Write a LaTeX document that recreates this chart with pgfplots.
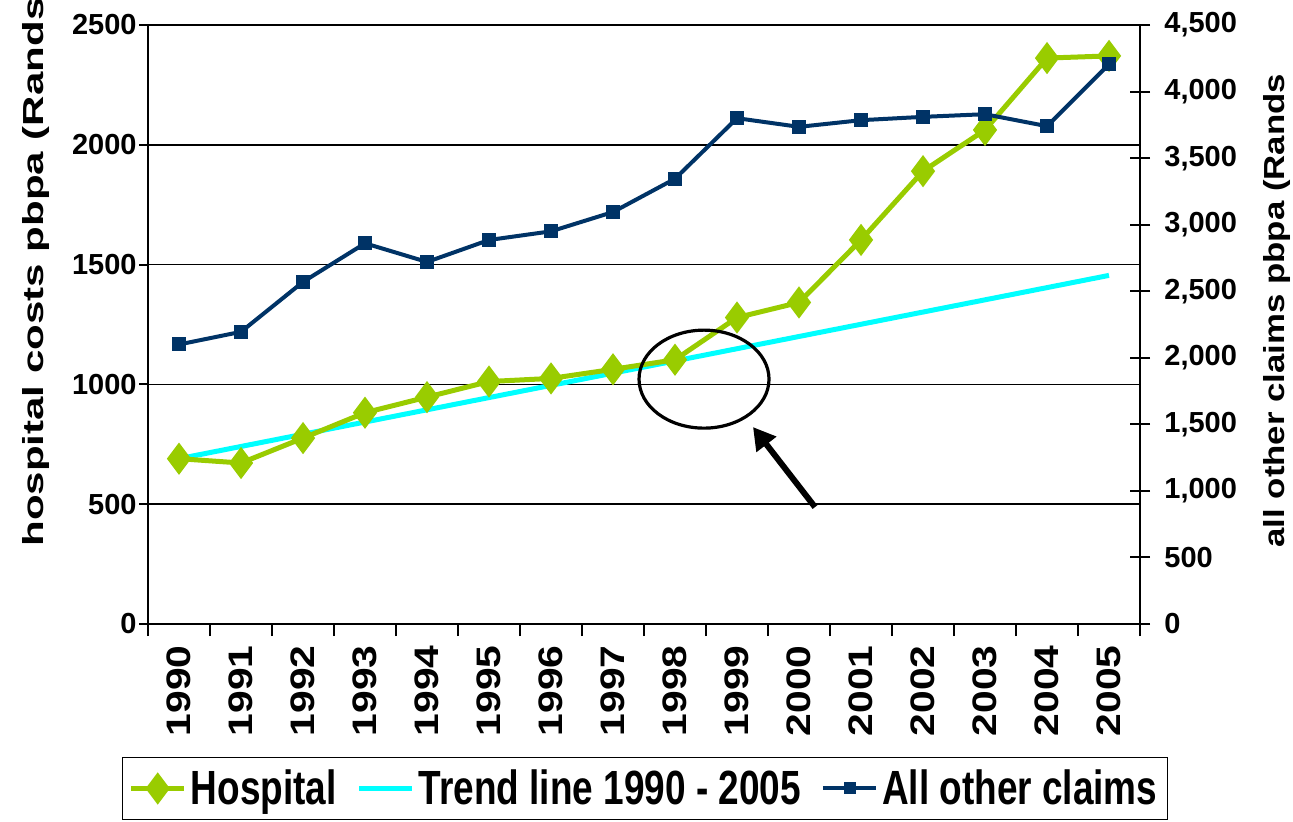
\documentclass[border=0pt]{standalone}
\usepackage{fontspec}
\setmainfont{Liberation Sans}
\newfontfamily\bfont{Liberation Sans Bold}
\newfontfamily\legfont{Liberation Sans Bold}[FakeStretch=0.77]
\newfontfamily\labfontL{Liberation Sans Bold}[FakeStretch=1.45]
\newfontfamily\labfontR{Liberation Sans Bold}[FakeStretch=1.2]
\newfontfamily\xfont{Liberation Sans Bold}[FakeStretch=1.2]
\usepackage{pgfplots}
\pgfplotsset{compat=1.18}
\usetikzlibrary{arrows.meta}
\definecolor{hosp}{HTML}{99CC00}
\definecolor{trendc}{HTML}{00FFFF}
\definecolor{navy}{HTML}{003366}

\pgfplotstableread{
x hosp trend other
0  690  690 2100
1  672  741 2195
2  776  792 2570
3  882  843 2860
4  947  894 2720
5  1012 945 2885
6  1025 996 2950
7  1063 1047 3095
8  1103 1098 3345
9  1279 1149 3800
10 1342 1200 3735
11 1603 1251 3785
12 1890 1302 3810
13 2062 1353 3830
14 2362 1404 3740
15 2371 1455 4205
}\data

\begin{document}
\begin{tikzpicture}
\begin{axis}[
  at={(0,0)}, anchor=south west,
  width=496pt, height=299.5pt, scale only axis,
  xmin=-0.5, xmax=15.5, ymin=0, ymax=2500,
  axis x line*=bottom, axis y line*=left,
  axis line style={line width=1.2pt, -},
  xtick={0,...,15},
  xticklabels={1990,1991,1992,1993,1994,1995,1996,1997,1998,1999,2000,2001,2002,2003,2004,2005},
  minor xtick={-0.5,0.5,...,15.5},
  major x tick style={draw=none},
  minor x tick style={line width=1pt, black},
  minor tick length=6pt,
  major tick length=4.5pt,
  tick align=outside,
  ytick={0,500,...,2500},
  y tick style={line width=1pt, black},
  ymajorgrids, grid style={line width=0.8pt, black},
  scaled y ticks=false,
  /pgf/number format/1000 sep={},
  /pgf/number format/assume math mode=true,
  yticklabel style={font=\bfont\fontsize{14.5}{16}\selectfont, inner sep=0pt, xshift=-1pt},
  xticklabel style={font=\xfont\fontsize{17}{18}\selectfont, rotate=90, anchor=east, inner sep=0pt, xshift=-6pt},
  ylabel={\labfontL\fontsize{14.5}{16}\selectfont hospital costs pbpa (Rands},
  ylabel style={at={(axis description cs:-0.1058,0.1285)}, anchor=base west, inner sep=0pt},
  legend columns=3,
  legend style={at={(axis description cs:-0.0262,-0.222)}, anchor=north west,
    draw=black, line width=0.6pt, font=\legfont\fontsize{24}{26}\selectfont,
    inner xsep=3pt, inner ysep=4pt,
    /tikz/every even column/.append style={column sep=8pt}},
  legend image code/.code={\draw[mark repeat=2,mark phase=2] plot coordinates {(0pt,0pt) (13.3pt,0pt) (26.6pt,0pt)};},
  clip=false,
]
\addplot[trendc, line width=2.5pt, forget plot] table[x=x,y=trend]{\data};
\addplot[hosp, line width=2.5pt, mark=diamond*, mark size=6pt, mark options={solid, fill=hosp}] table[x=x,y=hosp]{\data};
\addlegendentry{Hospital}
\addlegendimage{trendc, line width=2.5pt}
\addlegendentry{Trend line 1990 - 2005}
\addlegendimage{navy, line width=2pt, mark=square*, mark size=2pt}
\addlegendentry{All other claims}
\draw[black, line width=1.6pt] (axis cs:8.468,1022) ellipse [x radius=32.5pt, y radius=24.5pt];
\draw[black, line width=3pt, -{Triangle[length=11pt, width=12pt]}] (axis cs:10.258,488) -- (axis cs:9.258,822);
\end{axis}
\begin{axis}[
  at={(0,0)}, anchor=south west,
  width=496pt, height=299.5pt, scale only axis,
  xmin=-0.5, xmax=15.5, ymin=0, ymax=4500,
  axis x line=none, axis y line*=right,
  axis line style={line width=1.2pt, -},
  ytick={0,500,...,4500},
  tick align=center, major tick length=10pt,
  y tick style={line width=1pt, black},
  scaled y ticks=false,
  /pgf/number format/1000 sep={,},
  /pgf/number format/assume math mode=true,
  yticklabel style={font=\bfont\fontsize{14.5}{16}\selectfont, inner sep=0pt, anchor=west, xshift=7pt},
  ylabel={\labfontR\fontsize{14.5}{16}\selectfont all other claims pbpa (Rands},
  ylabel style={at={(axis description cs:1.1452,0.1269)}, anchor=base west, inner sep=0pt, rotate=0},
]
\addplot[navy, line width=2pt, mark=square*, mark size=2.5pt, mark options={solid, fill=navy}] table[x=x,y=other]{\data};
\end{axis}
\pgfresetboundingbox
\path[use as bounding box] (-74pt,-98.5pt) rectangle (572.5pt,312pt);
\end{tikzpicture}
\end{document}
